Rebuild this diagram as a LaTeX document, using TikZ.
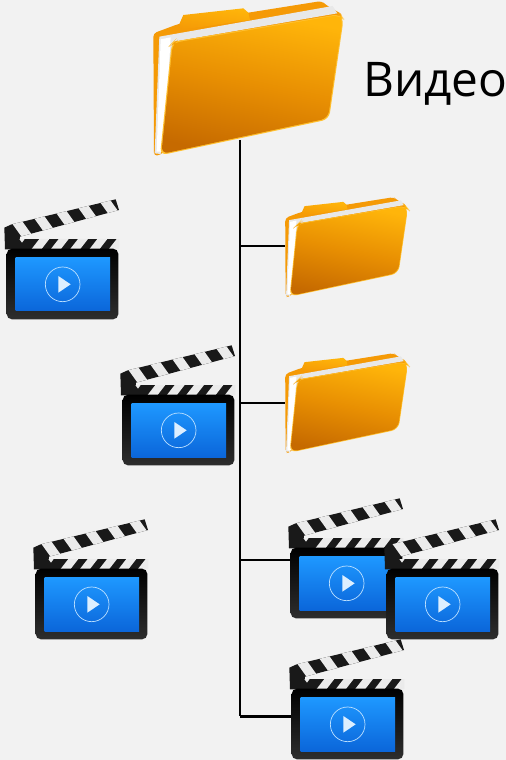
\documentclass[tikz,border=0pt]{standalone}
\usepackage{fontspec}
\setmainfont{Open Sans}
\usetikzlibrary{positioning}
\definecolor{pagebg}{HTML}{F2F2F2}
\definecolor{foldertop}{HTML}{FFB50A}
\definecolor{foldermid}{HTML}{E88F02}
\definecolor{folderlow}{HTML}{C66A00}
\definecolor{folderback}{HTML}{F59A06}
\definecolor{screentop}{HTML}{1E98FF}
\definecolor{screenlow}{HTML}{0B66DA}
\tikzset{
    link/.style={line width=1.7pt, black},
    folder/.pic={
        \begin{scope}[scale=1/3, line join=round]
            % back, tab, pages and front
            \fill[folderback, rounded corners=2pt] (40,100) -- (115,72) -- (325,38) -- (545,3) -- (558,15) -- (610,45) -- (60,465) -- (42,468) -- cycle;
            \shade[top color=foldertop, bottom color=folderback, shading angle=-8] (118,72) -- (130,45) -- (310,25) -- (325,38) -- (330,60) -- (120,90) -- cycle;
            \fill[white!91!black] (58,110) -- (578,18) -- (592,40) -- (100,125) -- (62,462) -- (44,460) -- cycle;
            \fill[white] (62,118) -- (92,112) -- (72,455) -- (50,455) -- cycle;
            \fill[foldertop!85!white, rounded corners=4pt] (100,125) -- (600,42) -- (611,55) -- (567,358) -- (60,466) -- (95,130) -- cycle;
            \shade[top color=foldertop, bottom color=folderlow, middle color=foldermid, shading angle=-12, rounded corners=4pt] (103,128) -- (598,45) -- (608,56) -- (564,355) -- (64,462) -- (98,132) -- cycle;
        \end{scope}
    },
    clapper/.pic={
        \begin{scope}[scale=1/3, line join=round]
            % arm with stripes
            \fill[black!90] (13,113) -- (35,103) -- (347,28) -- (357,60) -- (60,140) -- (58,178) -- (15,178) -- cycle;
            \begin{scope}
                \clip (35,103) -- (347,28) -- (357,60) -- (60,140) -- cycle;
                \foreach \s in {0,1,2,3,4}
                    \fill[white!92!black] ({36+\s*66},{100-\s*15.9}) -- ++(30,-7.2) -- ++(30,42) -- ++(-30,7.2) -- cycle;
            \end{scope}
            % lower bar
            \fill[black!90] (58,147) rectangle (358,178);
            \begin{scope}
                \clip (58,147) rectangle (358,178);
                \foreach \s in {0,1,2,3,4}
                    \fill[white!92!black] ({118+\s*58},147) -- ++(30,0) -- ++(-24,31) -- ++(-30,0) -- cycle;
                \fill[white!92!black] (58,147) -- (74,147) -- (66,158) -- cycle;
            \end{scope}
            % body and screen
            \shade[top color=black, bottom color=black!82, rounded corners=3pt] (20,176) rectangle (355,388);
            \shade[top color=screentop, bottom color=screenlow] (47,203) rectangle (330,363);
            \draw[white!70!screentop, line width=.4pt] (188,283) circle (52);
            \fill[white!85!screentop] (175,258) -- (212,283) -- (175,308) -- cycle;
        \end{scope}
    }
}
\begin{document}
\begin{tikzpicture}[x=0.02cm, y=-0.02cm]
\fill[pagebg] (0,0) rectangle (506,760);
\useasboundingbox (0,0) rectangle (506,760);

\coordinate (video) at (240,140);
\coordinate (sub1) at (285,246);
\coordinate (sub2) at (285,403);
\coordinate (clip1) at (290,560);
\coordinate (clip2) at (293,716);
\coordinate (end) at (240,716);

\draw[link] (video) -- (end);
\draw[link] (video |- sub1) -- (sub1);
\draw[link] (video |- sub2) -- (sub2);
\draw[link] (video |- clip1) -- (clip1);
\draw[link] (end) -- (clip2);

\pic at (140,0) {folder};
\pic[scale=0.645] at (276.6,196.5) {folder};
\pic[scale=0.645] at (276.6,352.5) {folder};

\pic at (0,190) {clapper};
\pic at (116,336) {clapper};
\pic at (29,510) {clapper};
\pic at (284,489) {clapper};
\pic at (380,510) {clapper};
\pic at (285,630) {clapper};

\node[anchor=base west, inner sep=0pt, font=\fontsize{27.2}{30}\selectfont] (title) at (363,97) {Видео};
\end{tikzpicture}
\end{document}
